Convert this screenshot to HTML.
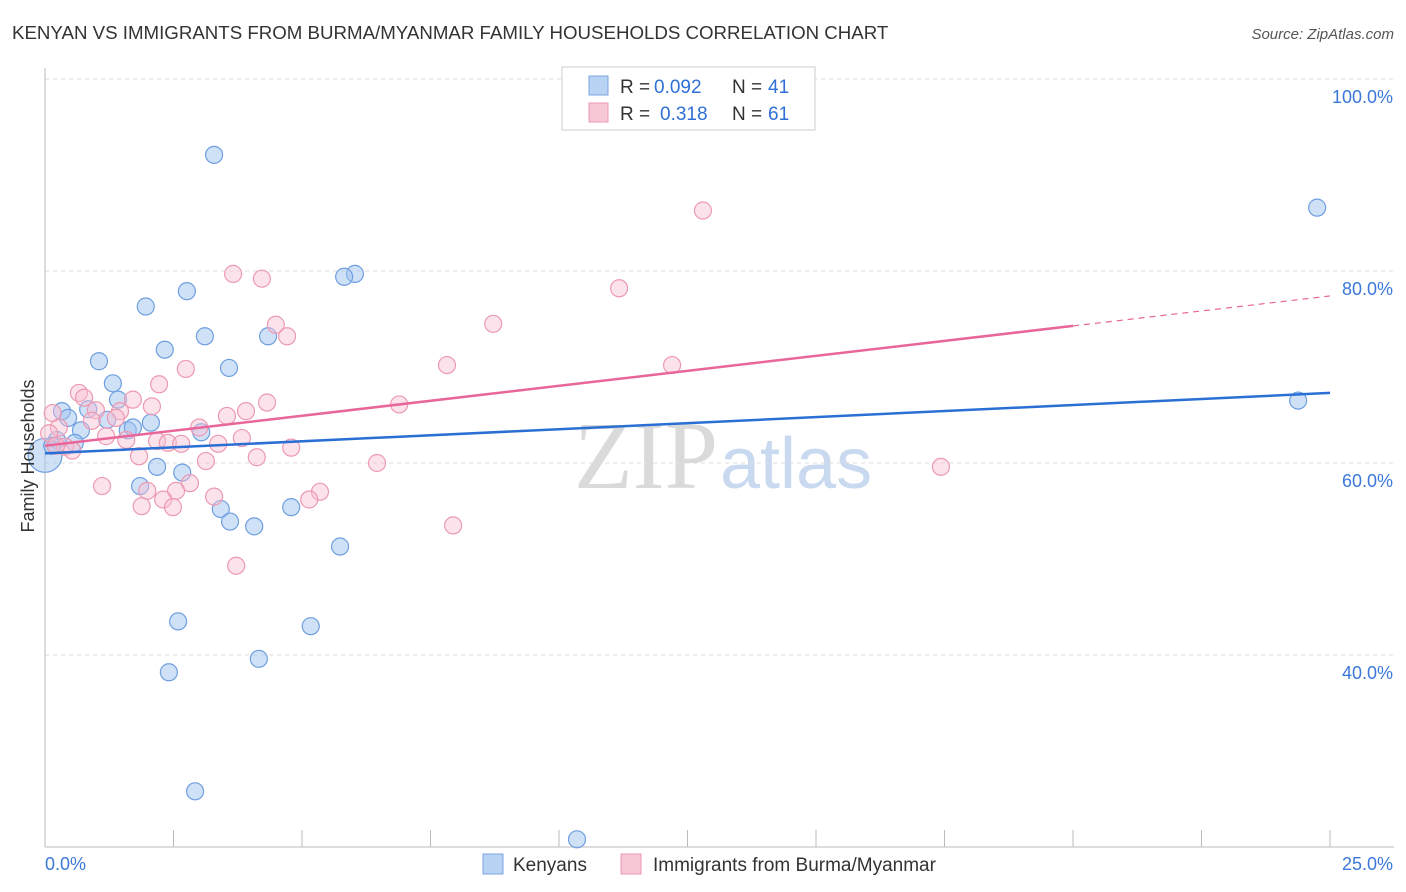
<!DOCTYPE html>
<html><head><meta charset="utf-8"><style>
body{margin:0;background:#fff;font-family:"Liberation Sans",sans-serif}
svg{display:block}
</style></head><body>
<svg id="c" width="1406" height="892" xmlns="http://www.w3.org/2000/svg">
<text x="12" y="39" font-size="18.7" fill="#333">KENYAN VS IMMIGRANTS FROM BURMA/MYANMAR FAMILY HOUSEHOLDS CORRELATION CHART</text>
<text x="1394" y="39" font-size="15" fill="#555" text-anchor="end" font-style="italic">Source: ZipAtlas.com</text>
<text x="718" y="488" font-size="96" fill="#dadada" text-anchor="end" font-family="Liberation Serif">ZIP</text>
<text x="720" y="488" font-size="72" fill="#c9d9ef">atlas</text>
<g id="grid"></g>
<g id="pts"></g>
<g id="trends"></g>
<text transform="translate(34,456) rotate(-90)" font-size="18" fill="#333" text-anchor="middle">Family Households</text>
<g>
<rect x="562" y="67" width="253" height="63" fill="#fff" stroke="#ccc"/>
<rect x="589" y="76" width="19" height="19" fill="#b9d3f5" stroke="#7aa6e0"/>
<rect x="589" y="103" width="19" height="19" fill="#f8c7d6" stroke="#ec9ab3"/>
<text x="620" y="93" font-size="19" fill="#333">R =</text>
<text x="654" y="93" font-size="19" fill="#2f6fd6">0.092</text>
<text x="732" y="93" font-size="19" fill="#333">N =</text>
<text x="768" y="93" font-size="19" fill="#2f6fd6">41</text>
<text x="620" y="120" font-size="19" fill="#333">R =</text>
<text x="660" y="120" font-size="19" fill="#2f6fd6">0.318</text>
<text x="732" y="120" font-size="19" fill="#333">N =</text>
<text x="768" y="120" font-size="19" fill="#2f6fd6">61</text>
</g>
<g>
<rect x="483" y="854" width="20" height="20" fill="#b9d3f5" stroke="#7aa6e0"/>
<text x="513" y="871" font-size="19" fill="#333">Kenyans</text>
<rect x="621" y="854" width="20" height="20" fill="#f8c7d6" stroke="#ec9ab3"/>
<text x="653" y="871" font-size="19" fill="#333">Immigrants from Burma/Myanmar</text>
</g>
</svg>
<script>
const kenX=[3.29,24.75,6.03,5.82,2.76,1.96,4.34,3.11,2.33,1.05,3.58,1.32,24.38,0.33,1.42,0.84,0.45,1.21,2.06,0.70,1.61,1.71,3.04,0.23,0.58,0,2.18,2.67,1.85,3.42,3.60,4.07,4.79,5.74,2.59,5.17,2.41,4.16,2.92,10.35,0.14];
const kenY=[92.1,86.6,79.7,79.4,77.9,76.3,73.2,73.2,71.8,70.6,69.9,68.3,66.5,65.4,66.6,65.6,64.7,64.5,64.2,63.4,63.4,63.7,63.2,62.4,62.1,60.8,59.6,59.0,57.6,55.2,53.9,53.4,55.4,51.3,43.5,43.0,38.2,39.6,25.8,20.8,61.8];
const burX=[12.80,3.66,4.22,11.17,8.72,4.49,4.71,7.82,12.20,2.74,2.22,0.66,0.76,1.71,4.32,2.08,6.89,0.99,1.46,0.15,3.91,3.54,1.38,0.91,0.27,0.08,3.00,1.19,1.58,2.18,2.39,2.65,3.37,3.83,4.79,0.39,0.53,1.83,4.12,3.13,6.46,17.43,1.11,2.82,5.35,5.14,1.99,2.55,2.30,3.29,1.88,2.49,7.94,3.72,0.21];
const burY=[86.3,79.7,79.2,78.2,74.5,74.4,73.2,70.2,70.2,69.8,68.2,67.3,66.8,66.6,66.3,65.9,66.1,65.5,65.4,65.2,65.4,64.9,64.7,64.4,63.7,63.1,63.7,62.8,62.4,62.3,62.1,62.0,62.0,62.6,61.6,61.7,61.3,60.7,60.6,60.2,60.0,59.6,57.6,57.9,57.0,56.2,57.1,57.1,56.2,56.5,55.5,55.4,53.5,49.3,61.8];
const kenTrend=[61.0,67.3];
const burTrend=[61.8,77.4];
const yTicks=[40,60,80,100];
const yTickLabels=["40.0%","60.0%","80.0%","100.0%"];
const xTicks=[0,2.5,5,7.5,10,12.5,15,17.5,20,22.5,25];
const xLabels=["0.0%","25.0%"];
const NS="http://www.w3.org/2000/svg";
const sx=v=>45+v*(1285/25), sy=v=>1039-v*9.6;
function mk(t,a,p){const e=document.createElementNS(NS,t);for(const k in a)e.setAttribute(k,a[k]);p.appendChild(e);return e;}
const g=document.getElementById('grid');
yTicks.forEach((v,i)=>{
 const l=mk('line',{x1:45,x2:1394,y1:sy(v),y2:sy(v),stroke:'#ddd','stroke-dasharray':'4,4'},g);
 
 
 const t=mk('text',{x:1393,y:sy(v)+24,'font-size':18,fill:'#3b78d8','text-anchor':'end'},g);
 t.textContent=yTickLabels[i];
 
 
});
const ax=mk('line',{x1:45,x2:45,y1:68,y2:847,stroke:'#bbb'},g);


const bx=mk('line',{x1:45,x2:1394,y1:847,y2:847,stroke:'#bbb'},g);


xTicks.forEach(v=>{
 const l=mk('line',{x1:sx(v),x2:sx(v),y1:830,y2:847,stroke:'#bbb'},g);
 
 
});
const xl0=mk('text',{x:45,y:870,'font-size':18,fill:'#3b78d8'},g);xl0.textContent=xLabels[0];


const xl1=mk('text',{x:1393,y:870,'font-size':18,fill:'#3b78d8','text-anchor':'end'},g);xl1.textContent=xLabels[1];


const P=document.getElementById('pts');
kenX.forEach((x,i)=>{
 const c=mk('circle',{cx:sx(x),cy:sy(kenY[i]),r:x===0?17:8.5,fill:'rgba(160,195,240,0.5)',stroke:'#6f9fe0','stroke-width':1.2},P);
 
 
});
burX.forEach((x,i)=>{
 const c=mk('circle',{cx:sx(x),cy:sy(burY[i]),r:8.5,fill:'rgba(248,190,210,0.45)',stroke:'#ec9ab3','stroke-width':1.2},P);
 
 
});
const T=document.getElementById('trends');
const kl=mk('line',{x1:sx(0),y1:sy(kenTrend[0]),x2:sx(25),y2:sy(kenTrend[1]),stroke:'#2a6fd4','stroke-width':2.5},T);


const bf=20/25, bm=burTrend[0]+(burTrend[1]-burTrend[0])*bf;
const bl=mk('line',{x1:sx(0),y1:sy(burTrend[0]),x2:sx(20),y2:sy(bm),stroke:'#e8669a','stroke-width':2.5},T);


const bd=mk('line',{x1:sx(20),y1:sy(bm),x2:sx(25),y2:sy(burTrend[1]),stroke:'#e8669a','stroke-width':1.2,'stroke-dasharray':'6,5'},T);


</script>
</body></html>
